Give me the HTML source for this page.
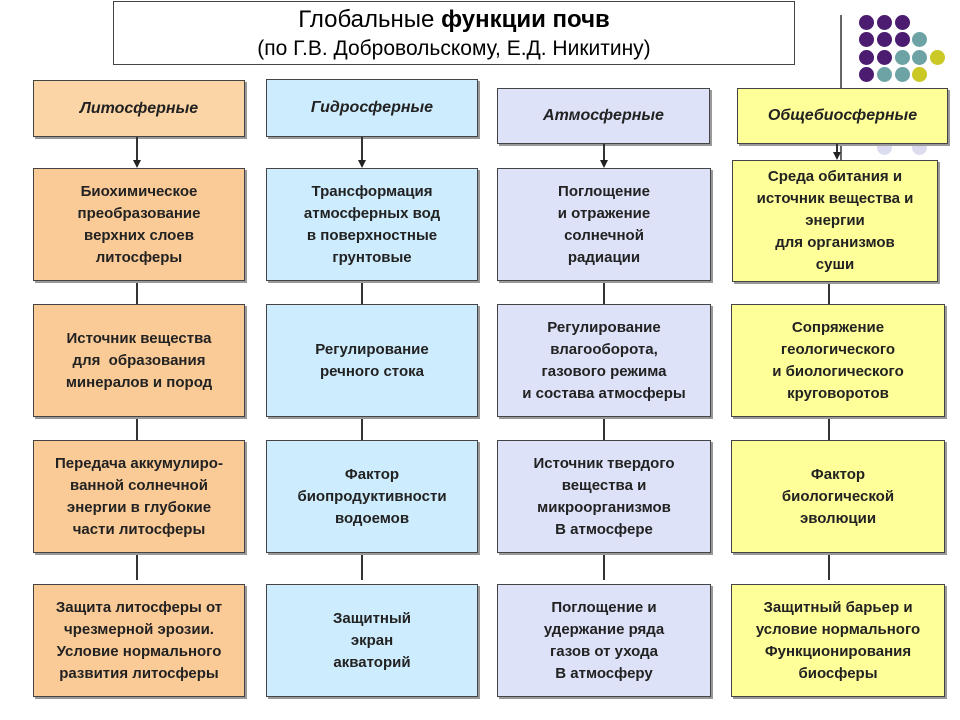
<!DOCTYPE html>
<html><head><meta charset="utf-8"><style>
body{margin:0;width:960px;height:720px;background:#fff;position:relative;overflow:hidden;font-family:"Liberation Sans",Arial,sans-serif}
.b{position:absolute;border:1.5px solid #444;box-sizing:border-box;display:flex;align-items:center;justify-content:center;text-align:center;font-weight:bold;font-size:15px;line-height:22px;color:#222;box-shadow:2px 2px 0 #999}
.h{font-style:italic;font-size:16px}
.o{background:#fbcb97}.ho{background:#fbd5a5}
.l{background:#cdecfd}.a{background:#dde2f8}.y{background:#ffff99}
.v{position:absolute;width:1.5px;background:#333}
.ar{position:absolute;width:0;height:0;border-left:4px solid transparent;border-right:4px solid transparent;border-top:8px solid #222}
.d{position:absolute;width:15px;height:15px;border-radius:50%}
.p{background:#4b1c70}.t{background:#6ea3a6}.g{background:#c9c824}.f{background:#dcdcf0}
</style></head><body>
<div class="v" style="left:840px;top:15px;height:145px;background:#666"></div>
<div class="d p" style="left:859px;top:15px"></div><div class="d p" style="left:877px;top:15px"></div><div class="d p" style="left:895px;top:15px"></div>
<div class="d p" style="left:859px;top:32px"></div><div class="d p" style="left:877px;top:32px"></div><div class="d p" style="left:895px;top:32px"></div><div class="d t" style="left:912px;top:32px"></div>
<div class="d p" style="left:859px;top:50px"></div><div class="d p" style="left:877px;top:50px"></div><div class="d t" style="left:895px;top:50px"></div><div class="d t" style="left:912px;top:50px"></div><div class="d g" style="left:930px;top:50px"></div>
<div class="d p" style="left:859px;top:67px"></div><div class="d t" style="left:877px;top:67px"></div><div class="d t" style="left:895px;top:67px"></div><div class="d g" style="left:912px;top:67px"></div>
<div class="d f" style="left:877px;top:140px"></div><div class="d f" style="left:912px;top:140px"></div>

<div style="position:absolute;left:113px;top:1px;width:682px;height:64px;border:1.5px solid #444;box-sizing:border-box;text-align:center;background:#fff">
<div style="font-size:24px;line-height:32px;margin-top:2px">Глобальные <b>функции почв</b></div>
<div style="font-size:21px;line-height:26px">(по Г.В. Добровольскому, Е.Д. Никитину)</div></div>

<div class="b h ho" style="left:33px;top:80px;width:212px;height:57px">Литосферные</div>
<div class="b h l" style="left:266px;top:79px;width:212px;height:58px">Гидросферные</div>
<div class="b h a" style="left:497px;top:88px;width:213px;height:56px">Атмосферные</div>
<div class="b h y" style="left:737px;top:88px;width:211px;height:56px">Общебиосферные</div>

<div class="v" style="left:136px;top:137px;height:24px"></div><div class="ar" style="left:133px;top:160px"></div>
<div class="v" style="left:361px;top:137px;height:24px"></div><div class="ar" style="left:358px;top:160px"></div>
<div class="v" style="left:603px;top:144px;height:17px"></div><div class="ar" style="left:600px;top:160px"></div>
<div class="v" style="left:836px;top:144px;height:8px"></div><div class="ar" style="left:833px;top:152px"></div>

<div class="v" style="left:136px;top:280px;height:300px"></div>
<div class="v" style="left:361px;top:280px;height:300px"></div>
<div class="v" style="left:603px;top:280px;height:300px"></div>
<div class="v" style="left:828px;top:280px;height:300px"></div>

<div class="b o" style="left:33px;top:168px;width:212px;height:113px">Биохимическое<br>преобразование<br>верхних слоев<br>литосферы</div>
<div class="b l" style="left:266px;top:168px;width:212px;height:113px">Трансформация<br>атмосферных вод<br>в поверхностные<br>грунтовые</div>
<div class="b a" style="left:497px;top:168px;width:214px;height:113px">Поглощение<br>и отражение<br>солнечной<br>радиации</div>
<div class="b y" style="left:732px;top:160px;width:206px;height:122px;white-space:nowrap">Среда обитания и<br>источник вещества и<br>энергии<br>для организмов<br>суши</div>

<div class="b o" style="left:33px;top:304px;width:212px;height:113px">Источник вещества<br>для&nbsp; образования<br>минералов и пород</div>
<div class="b l" style="left:266px;top:304px;width:212px;height:113px">Регулирование<br>речного стока</div>
<div class="b a" style="left:497px;top:304px;width:214px;height:113px;white-space:nowrap">Регулирование<br>влагооборота,<br>газового режима<br>и состава атмосферы</div>
<div class="b y" style="left:731px;top:304px;width:214px;height:113px">Сопряжение<br>геологического<br>и биологического<br>круговоротов</div>

<div class="b o" style="left:33px;top:440px;width:212px;height:113px;white-space:nowrap">Передача аккумулиро-<br>ванной солнечной<br>энергии в глубокие<br>части литосферы</div>
<div class="b l" style="left:266px;top:440px;width:212px;height:113px">Фактор<br>биопродуктивности<br>водоемов</div>
<div class="b a" style="left:497px;top:440px;width:214px;height:113px">Источник твердого<br>вещества и<br>микроорганизмов<br>В атмосфере</div>
<div class="b y" style="left:731px;top:440px;width:214px;height:113px">Фактор<br>биологической<br>эволюции</div>

<div class="b o" style="left:33px;top:584px;width:212px;height:113px;white-space:nowrap">Защита литосферы от<br>чрезмерной эрозии.<br>Условие нормального<br>развития литосферы</div>
<div class="b l" style="left:266px;top:584px;width:212px;height:113px">Защитный<br>экран<br>акваторий</div>
<div class="b a" style="left:497px;top:584px;width:214px;height:113px">Поглощение и<br>удержание ряда<br>газов от ухода<br>В атмосферу</div>
<div class="b y" style="left:731px;top:584px;width:214px;height:113px;white-space:nowrap">Защитный барьер и<br>условие нормального<br>Функционирования<br>биосферы</div>
</body></html>
